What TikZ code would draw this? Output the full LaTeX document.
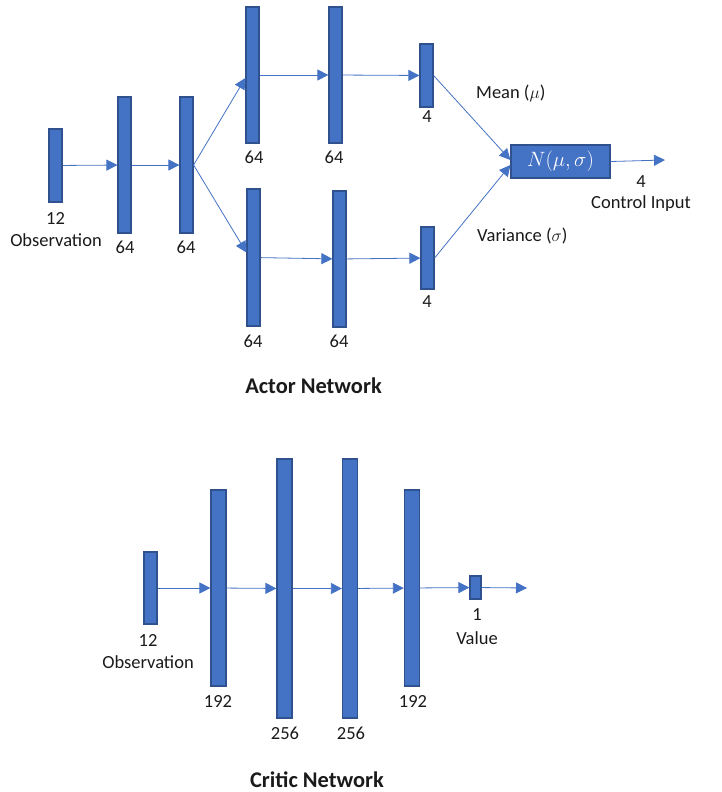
\documentclass[tikz,border=0pt]{standalone}
\usepackage{fontspec}
\setmainfont{Carlito}
\usetikzlibrary{arrows.meta}
\definecolor{layerfill}{HTML}{4472C4}
\definecolor{layeredge}{HTML}{2F528F}
\definecolor{linkcol}{HTML}{4472C4}
\definecolor{txt}{HTML}{1A1A1A}
\tikzset{
  layer/.style={draw=layeredge, fill=layerfill, line width=1.2pt, inner sep=0pt,
                minimum width=13pt, minimum height=#1},
  link/.style={draw=linkcol, line width=0.8pt, -{Triangle[length=11pt,width=11pt]}},
  lbl/.style={text=txt, inner sep=0pt, font=\fontsize{18.5}{22}\selectfont},
  title/.style={text=txt, inner sep=0pt, font=\fontsize{22.4}{26}\selectfont\bfseries},
}
\begin{document}
\begin{tikzpicture}[x=1pt,y=-1pt]
\useasboundingbox (0,0) rectangle (721,792);

% ---------------- Actor network ----------------
\node[layer=73pt]  (aobs) at (55.5,165.5) {};
\node[layer=136pt] (ah1)  at (124.5,165) {};
\node[layer=136pt] (ah2)  at (186.5,165) {};
\node[layer=136pt] (ata)  at (252.5,75) {};
\node[layer=136pt] (atb)  at (335.5,75) {};
\node[layer=63pt]  (amu)  at (426.5,75.5) {};
\node[layer=137pt] (aba)  at (253.5,257.5) {};
\node[layer=136pt] (abb)  at (339.5,259) {};
\node[layer=62pt]  (asg)  at (427.5,258) {};
\node[layer=33pt, minimum width=99pt, text=white] (anorm) at (560.5,161.5)
  {\fontsize{20.5}{24}\selectfont$N(\mu,\sigma)$};
\coordinate (aout) at (665,160);

\draw[link] (aobs) -- (ah1);
\draw[link] (ah1) -- (ah2);
\draw[link] (ah2.east) -- ([yshift=-3pt]ata.west);
\draw[link] (ah2.east) -- ([yshift=5pt]aba.west);
\draw[link] (ata) -- (atb);
\draw[link] (atb) -- (amu);
\draw[link] (aba) -- (abb);
\draw[link] (abb) -- (asg);
\draw[link] (amu.east) -- ([yshift=1.5pt]anorm.west);
\draw[link] (asg.east) -- ([yshift=-3.5pt]anorm.west);
\draw[link] (anorm.east) -- (aout);

\node[lbl] (tobs1) at (55.5,218) {12};
\node[lbl] (tobs2) at (56,240) {Observation};
\node[lbl] (th1) at (125,247) {64};
\node[lbl] (th2) at (186,247) {64};
\node[lbl] (tta) at (254,157) {64};
\node[lbl] (ttb) at (334,157) {64};
\node[lbl] (tmu) at (427,117) {4};
\node[lbl] (tba) at (253,341) {64};
\node[lbl] (tbb) at (339,341) {64};
\node[lbl] (tsg) at (427,302) {4};
\node[lbl, anchor=west] (tmean) at (476,93) {Mean ($\mu$)};
\node[lbl, anchor=west] (tvar) at (477,236) {Variance ($\sigma$)};
\node[lbl] (tout1) at (641,182) {4};
\node[lbl] (tout2) at (641,204) {Control Input};
\node[title] (tactor) at (313.5,386) {Actor Network};

% ---------------- Critic network ----------------
\node[layer=72pt]  (cobs) at (150.5,588) {};
\node[layer=196pt, minimum width=15pt] (c1) at (218.5,588) {};
\node[layer=259pt, minimum width=15pt] (c2) at (284.5,588.5) {};
\node[layer=259pt, minimum width=15pt] (c3) at (350,588.5) {};
\node[layer=196pt, minimum width=15pt] (c4) at (412,588) {};
\node[layer=23pt, minimum width=11pt] (cval) at (475.5,587.5) {};
\coordinate (cout) at (527,588);

\draw[link] (cobs) -- (c1);
\draw[link] (c1) -- (c2);
\draw[link] (c2) -- (c3);
\draw[link] (c3) -- (c4);
\draw[link] (c4) -- (cval);
\draw[link] (cval) -- (cout);

\node[lbl] (cobs1) at (148,640) {12};
\node[lbl] (cobs2) at (148,662) {Observation};
\node[lbl] (tc1) at (218,701) {192};
\node[lbl] (tc2) at (285,733) {256};
\node[lbl] (tc3) at (351,733) {256};
\node[lbl] (tc4) at (413,701) {192};
\node[lbl] (tval1) at (477,615) {1};
\node[lbl] (tval2) at (477,638) {Value};
\node[title] (tcritic) at (317,780) {Critic Network};
\end{tikzpicture}
\end{document}
